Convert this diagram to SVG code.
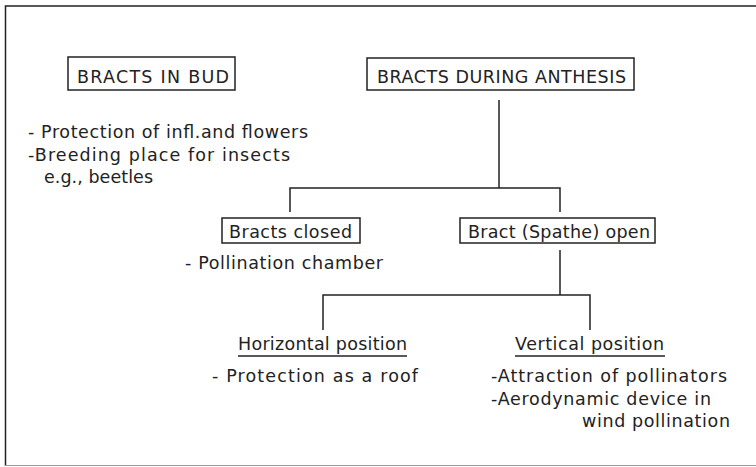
<svg xmlns="http://www.w3.org/2000/svg" width="756" height="467" viewBox="0 0 756 467">
<style>
text{font-family:"DejaVu Sans","Liberation Sans",sans-serif;font-size:17.5px;fill:#222}
.box{fill:none;stroke:#222;stroke-width:1.5}
.ln{fill:none;stroke:#222;stroke-width:1.5}
</style>
<rect width="756" height="467" fill="#fff"/>
<g id="frame">
<path d="M5.5,466 V6 H756" class="ln"/>
<path d="M5,465.5 H756" fill="none" stroke="#999" stroke-width="1.2"/>
</g>
<g id="connectors">
<path class="ln" d="M499,100 V188 M290,212 V188 H560 V212"/>
<path class="ln" d="M560,250 V295 M323,330 V295 H590 V330"/>
</g>
<g id="bud">
<rect class="box" x="68" y="57" width="167" height="33"/>
<text x="77" y="83" textLength="152" lengthAdjust="spacing">BRACTS IN BUD</text>
<text x="28" y="138" textLength="280" lengthAdjust="spacing">- Protection of infl.and flowers</text>
<text x="28" y="161" textLength="262" lengthAdjust="spacing">-Breeding place for insects</text>
<text x="44" y="183" textLength="109" lengthAdjust="spacing">e.g., beetles</text>
</g>
<g id="anthesis">
<rect class="box" x="367" y="58" width="267" height="32"/>
<text x="377" y="83" textLength="249" lengthAdjust="spacing">BRACTS DURING ANTHESIS</text>
</g>
<g id="closed">
<rect class="box" x="222" y="218" width="138" height="25"/>
<text x="229" y="238" textLength="123" lengthAdjust="spacing">Bracts closed</text>
<text x="185" y="269" textLength="198" lengthAdjust="spacing">- Pollination chamber</text>
</g>
<g id="open">
<rect class="box" x="460" y="218" width="195" height="25"/>
<text x="468" y="238" textLength="182" lengthAdjust="spacing">Bract (Spathe) open</text>
</g>
<g id="horizontal">
<text x="238" y="350" textLength="169" lengthAdjust="spacing">Horizontal position</text>
<path class="ln" d="M238,356 H407"/>
<text x="212" y="382" textLength="206" lengthAdjust="spacing">- Protection as a roof</text>
</g>
<g id="vertical">
<text x="515" y="350" textLength="149" lengthAdjust="spacing">Vertical position</text>
<path class="ln" d="M515,356 H665"/>
<text x="491" y="382" textLength="236" lengthAdjust="spacing">-Attraction of pollinators</text>
<text x="491" y="405" textLength="220" lengthAdjust="spacing">-Aerodynamic device in</text>
<text x="582" y="427" textLength="148" lengthAdjust="spacing">wind pollination</text>
</g>
</svg>
